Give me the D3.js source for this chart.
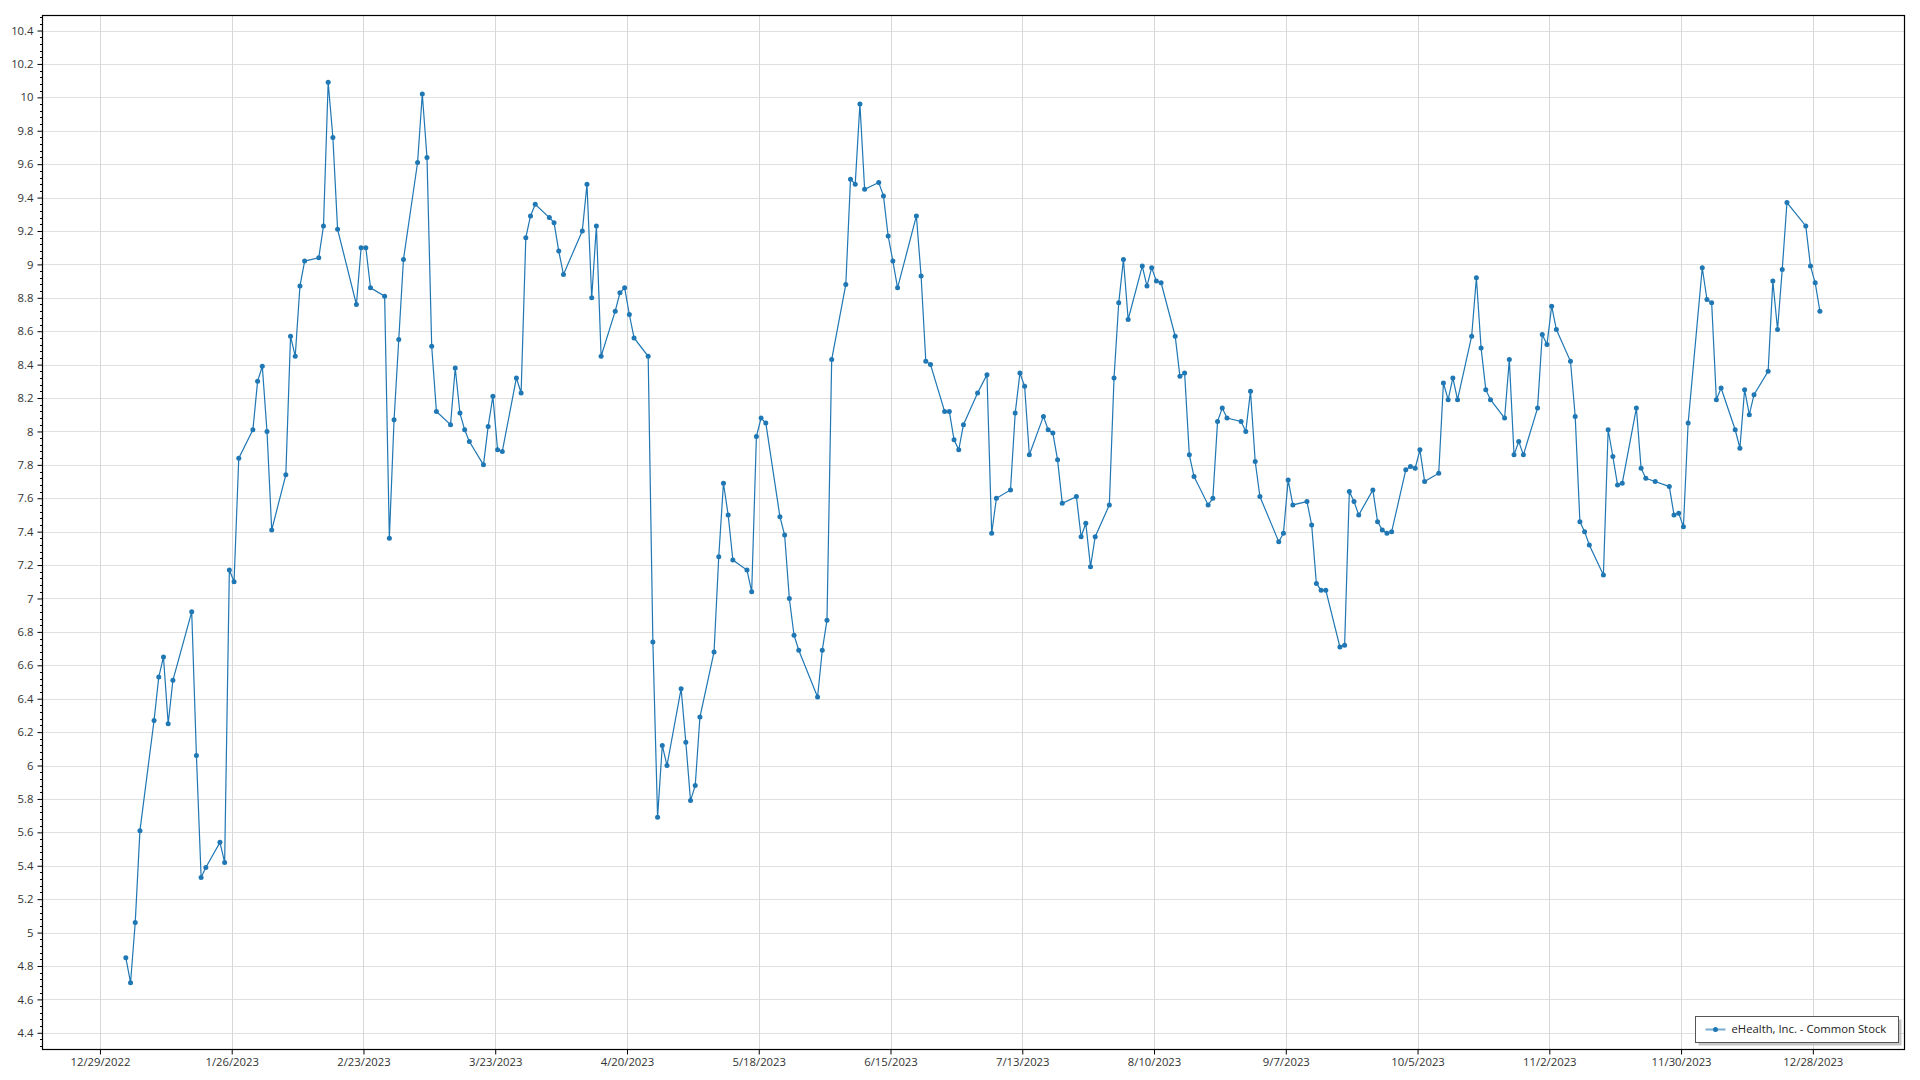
<!DOCTYPE html>
<html>
<head>
<meta charset="utf-8">
<script src="https://cdn.jsdelivr.net/npm/d3@7"></script>
<style>
  html, body { margin: 0; padding: 0; background: #fff; }
  svg { display: block; }
  text { font-family: "Open Sans", "Noto Sans", sans-serif; }
</style>
</head>
<body>
<svg id="chart" width="1920" height="1080"></svg>
<script>
// ---- data (EHTH daily close, 2023) ----
const seriesName = "eHealth, Inc. - Common Stock";
const dataYear = 2023;
const tradingDays = [
  [3,4,5,6,9,10,11,12,13,17,18,19,20,23,24,25,26,27,30,31],
  [1,2,3,6,7,8,9,10,13,14,15,16,17,21,22,23,24,27,28],
  [1,2,3,6,7,8,9,10,13,14,15,16,17,20,21,22,23,24,27,28,29,30,31],
  [3,4,5,6,10,11,12,13,14,17,18,19,20,21,24,25,26,27,28],
  [1,2,3,4,5,8,9,10,11,12,15,16,17,18,19,22,23,24,25,26,30,31],
  [1,2,5,6,7,8,9,12,13,14,15,16,20,21,22,23,26,27,28,29,30],
  [3,5,6,7,10,11,12,13,14,17,18,19,20,21,24,25,26,27,28,31],
  [1,2,3,4,7,8,9,10,11,14,15,16,17,18,21,22,23,24,25,28,29,30,31],
  [1,5,6,7,8,11,12,13,14,15,18,19,20,21,22,25,26,27,28,29],
  [2,3,4,5,6,9,10,11,12,13,16,17,18,19,20,23,24,25,26,27,30,31],
  [1,2,3,6,7,8,9,10,13,14,15,16,17,20,21,22,24,27,28,29,30],
  [1,4,5,6,7,8,11,12,13,14,15,18,19,20,21,22,26,27,28,29]
];
const closePrices = [
  [4.85,4.70,5.06,5.61,6.27,6.53,6.65,6.25,6.51,6.92,6.06,5.33,5.39,5.54,5.42,7.17,7.10,7.84,8.01,8.30],
  [8.39,8.00,7.41,7.74,8.57,8.45,8.87,9.02,9.04,9.23,10.09,9.76,9.21,8.76,9.10,9.10,8.86,8.81,7.36],
  [8.07,8.55,9.03,9.61,10.02,9.64,8.51,8.12,8.04,8.38,8.11,8.01,7.94,7.80,8.03,8.21,7.89,7.88,8.32,8.23,9.16,9.29,9.36],
  [9.28,9.25,9.08,8.94,9.20,9.48,8.80,9.23,8.45,8.72,8.83,8.86,8.70,8.56,8.45,6.74,5.69,6.12,6.00],
  [6.46,6.14,5.79,5.88,6.29,6.68,7.25,7.69,7.50,7.23,7.17,7.04,7.97,8.08,8.05,7.49,7.38,7.00,6.78,6.69,6.41,6.69],
  [6.87,8.43,8.88,9.51,9.48,9.96,9.45,9.49,9.41,9.17,9.02,8.86,9.29,8.93,8.42,8.40,8.12,8.12,7.95,7.89,8.04],
  [8.23,8.34,7.39,7.60,7.65,8.11,8.35,8.27,7.86,8.09,8.01,7.99,7.83,7.57,7.61,7.37,7.45,7.19,7.37,7.56],
  [8.32,8.77,9.03,8.67,8.99,8.87,8.98,8.90,8.89,8.57,8.33,8.35,7.86,7.73,7.56,7.60,8.06,8.14,8.08,8.06,8.00,8.24,7.82],
  [7.61,7.34,7.39,7.71,7.56,7.58,7.44,7.09,7.05,7.05,6.71,6.72,7.64,7.58,7.50,7.65,7.46,7.41,7.39,7.40],
  [7.77,7.79,7.78,7.89,7.70,7.75,8.29,8.19,8.32,8.19,8.57,8.92,8.50,8.25,8.19,8.08,8.43,7.86,7.94,7.86,8.14,8.58],
  [8.52,8.75,8.61,8.42,8.09,7.46,7.40,7.32,7.14,8.01,7.85,7.68,7.69,8.14,7.78,7.72,7.70,7.67,7.50,7.51,7.43],
  [8.05,8.98,8.79,8.77,8.19,8.26,8.01,7.90,8.25,8.10,8.22,8.36,8.90,8.61,8.97,9.37,9.23,8.99,8.89,8.72]
];
const xTickLabels = ["12/29/2022","1/26/2023","2/23/2023","3/23/2023","4/20/2023","5/18/2023","6/15/2023",
  "7/13/2023","8/10/2023","9/7/2023","10/5/2023","11/2/2023","11/30/2023","12/28/2023"];
const yTickLabels = ["4.4","4.6","4.8","5","5.2","5.4","5.6","5.8","6","6.2","6.4","6.6","6.8","7","7.2","7.4",
  "7.6","7.8","8","8.2","8.4","8.6","8.8","9","9.2","9.4","9.6","9.8","10","10.2","10.4"];

// ---- build table ----
const data = [];
tradingDays.forEach((days, m) => days.forEach((d, i) => {
  data.push({ date: new Date(Date.UTC(dataYear, m, d, 12)), value: closePrices[m][i] });
}));
const parseTick = s => { const [mo, d, y] = s.split("/").map(Number); return new Date(Date.UTC(y, mo - 1, d)); };

// ---- layout ----
const plot = { left: 42.5, top: 15.5, right: 1904.5, bottom: 1049.5 };
const svg = d3.select("#chart");

const x = d3.scaleUtc()
  .domain([new Date(Date.UTC(2022, 11, 16, 19, 0)), new Date(Date.UTC(2024, 0, 16, 11, 30))])
  .range([plot.left, plot.right]);
const y = d3.scaleLinear().domain([4.3, 10.49]).range([plot.bottom, plot.top]);

const gridColor = "#e0e0e0";
// horizontal grid
svg.append("g").selectAll("line").data(yTickLabels).join("line")
  .attr("x1", plot.left).attr("x2", plot.right)
  .attr("y1", d => Math.round(y(+d)) + 0.5).attr("y2", d => Math.round(y(+d)) + 0.5)
  .attr("stroke", gridColor).attr("stroke-width", 1);
// vertical grid
svg.append("g").selectAll("line").data(xTickLabels).join("line")
  .attr("x1", d => Math.round(x(parseTick(d))) + 0.5).attr("x2", d => Math.round(x(parseTick(d))) + 0.5)
  .attr("y1", plot.top).attr("y2", plot.bottom)
  .attr("stroke", "#d8d8d8").attr("stroke-width", 1);

// axes
const xAxis = d3.axisBottom(x)
  .tickValues(xTickLabels.map(parseTick))
  .tickFormat((d, i) => xTickLabels[i])
  .tickSize(5).tickPadding(3);
const gx = svg.append("g").attr("transform", `translate(0,${plot.bottom})`).call(xAxis);
gx.select(".domain").remove();
gx.selectAll("line").attr("stroke", "#000");
gx.selectAll("text").attr("fill", "#333").style("font-size", "11.3px").style("font-family", "'Open Sans', sans-serif");

const yAxis = d3.axisLeft(y)
  .tickValues(yTickLabels.map(Number))
  .tickFormat((d, i) => yTickLabels[i])
  .tickSize(5).tickPadding(4);
const gy = svg.append("g").attr("transform", `translate(${plot.left},0)`).call(yAxis);
gy.select(".domain").remove();
gy.selectAll("line").attr("stroke", "#000");
gy.selectAll("text").attr("fill", "#333").style("font-size", "11.3px").style("font-family", "'Open Sans', sans-serif");

// minor y ticks
const minorY = d3.range(Math.ceil(4.3 / 0.04), Math.floor(10.49 / 0.04) + 1)
  .filter(i => i % 5 !== 0).map(i => i * 0.04);
svg.append("g").selectAll("line").data(minorY).join("line")
  .attr("x1", plot.left - 2.5).attr("x2", plot.left)
  .attr("y1", d => Math.round(y(d)) + 0.5).attr("y2", d => Math.round(y(d)) + 0.5)
  .attr("stroke", "#000");

// frame
svg.append("rect")
  .attr("x", plot.left).attr("y", plot.top)
  .attr("width", plot.right - plot.left).attr("height", plot.bottom - plot.top)
  .attr("fill", "none").attr("stroke", "#000").attr("stroke-width", 1.2);

// series
const color = "#1f77b4";
const line = d3.line().x(d => x(d.date)).y(d => y(d.value));
svg.append("path").datum(data)
  .attr("d", line).attr("fill", "none").attr("stroke", color).attr("stroke-width", 1.2);
svg.append("g").selectAll("circle").data(data).join("circle")
  .attr("cx", d => x(d.date)).attr("cy", d => y(d.value)).attr("r", 2.5).attr("fill", color);

// legend
const lg = { x: 1695.5, y: 1016.5, w: 203, h: 26 };
const legend = svg.append("g");
legend.append("rect").attr("x", lg.x + 3).attr("y", lg.y + 3).attr("width", lg.w).attr("height", lg.h)
  .attr("fill", "#b8b8b8").attr("opacity", 0.8);
legend.append("rect").attr("x", lg.x).attr("y", lg.y).attr("width", lg.w).attr("height", lg.h)
  .attr("fill", "#fff").attr("stroke", "#555").attr("stroke-width", 1);
legend.append("line").attr("x1", lg.x + 10).attr("x2", lg.x + 30)
  .attr("y1", lg.y + 13).attr("y2", lg.y + 13)
  .attr("stroke", color).attr("stroke-width", 2).attr("opacity", 0.6);
legend.append("circle").attr("cx", lg.x + 20).attr("cy", lg.y + 13).attr("r", 2.5).attr("fill", color);
legend.append("text").attr("x", lg.x + 36).attr("y", lg.y + 13).attr("dy", "0.35em")
  .attr("fill", "#222").style("font-size", "11.3px").text(seriesName);
</script>
</body>
</html>
